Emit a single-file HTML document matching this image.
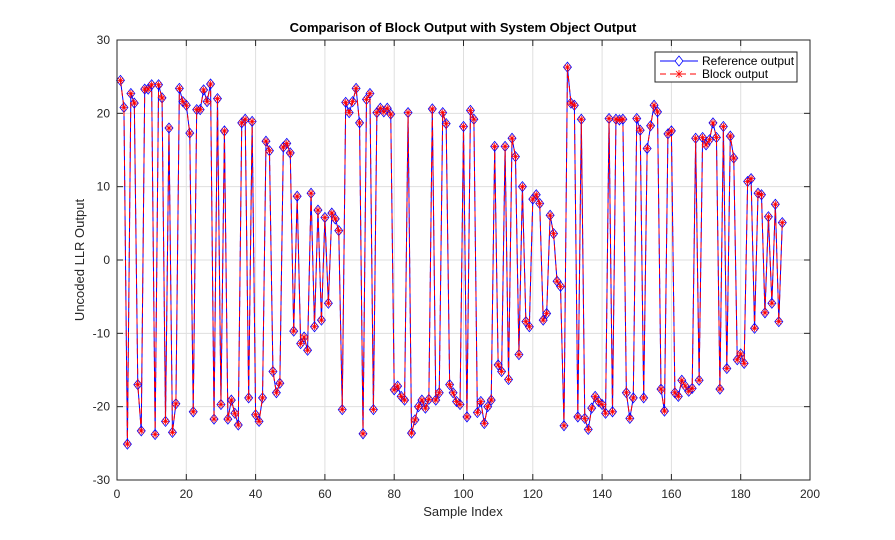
<!DOCTYPE html>
<html><head><meta charset="utf-8"><style>
html,body{margin:0;padding:0;background:#fff;}
svg{display:block;font-family:"Liberation Sans",Arial,sans-serif;}
</style></head><body>
<svg id="s" width="895" height="540" viewBox="0 0 895 540" xmlns="http://www.w3.org/2000/svg">
<rect width="895" height="540" fill="#fff"/>
<g id="grid"></g>
<g id="data"></g>
<rect x="117" y="40" width="693" height="440" fill="none" stroke="#262626" stroke-width="1"/>
<g id="ticks" font-size="12" fill="#262626"></g>
<text x="463" y="32" text-anchor="middle" font-size="13" font-weight="bold" fill="#000">Comparison of Block Output with System Object Output</text>
<text x="463" y="516" text-anchor="middle" font-size="13" fill="#262626">Sample Index</text>
<text transform="translate(84,260) rotate(-90)" text-anchor="middle" font-size="13" fill="#262626">Uncoded LLR Output</text>
<g>
<rect x="655" y="52" width="142" height="30" fill="#fff" stroke="#262626" stroke-width="1"/>
<line x1="660" y1="61" x2="698" y2="61" stroke="#0000ff" stroke-width="1"/>
<polygon points="679,56 683,61 679,66 675,61" fill="#fff" stroke="#0000ff" stroke-width="0.8"/>
<text x="702" y="65" font-size="12" fill="#000">Reference output</text>
<line x1="660" y1="74" x2="698" y2="74" stroke="#ff0000" stroke-width="1" stroke-dasharray="6,4"/>
<g stroke="#ff0000" stroke-width="0.8"><line x1="675" y1="74" x2="683" y2="74"/><line x1="679" y1="70" x2="679" y2="78"/><line x1="676" y1="71" x2="682" y2="77"/><line x1="682" y1="71" x2="676" y2="77"/></g>
<text x="702" y="78" font-size="12" fill="#000">Block output</text>
</g>
</svg>
<script>
var v=[24.5,20.8,-25.1,22.7,21.4,-17,-23.3,23.3,23.3,23.9,-23.8,23.9,22.1,-22,18,-23.5,-19.6,23.4,21.6,21.1,17.3,-20.7,20.5,20.5,23.2,21.6,24,-21.7,22,-19.7,17.6,-21.7,-19.1,-20.9,-22.5,18.7,19.2,-18.8,18.9,-21.1,-22,-18.8,16.2,14.9,-15.2,-18.1,-16.8,15.4,15.9,14.6,
-9.7,8.7,-11.4,-10.5,-12.3,9.1,-9.1,6.8,-8.2,5.8,-5.9,6.4,5.6,4.0,-20.4,21.5,20.1,21.6,23.4,18.7,-23.7,21.9,22.7,-20.4,20.1,20.7,20.2,20.7,19.9,-17.7,-17.2,-18.6,-19.1,20.1,-23.6,-21.8,-20,-19.1,-20.2,-19,20.6,-19.1,-18.1,20.1,18.6,-17,-18.1,-19.3,-19.7,18.2,-21.4,
20.4,19.2,-20.8,-19.3,-22.3,-20,-19.1,15.5,-14.3,-15.2,15.5,-16.3,16.6,14.1,-12.9,10,-8.4,-9.1,8.3,8.9,7.7,-8.2,-7.3,6.1,3.6,-2.9,-3.6,-22.6,26.3,21.4,21.1,-21.4,19.2,-21.6,-23.1,-20.2,-18.6,-19.3,-19.7,-20.9,19.3,-20.7,19.2,19.1,19.2,-18.1,-21.6,-18.8,19.3,
17.7,-18.8,15.2,18.3,21.1,20.2,-17.6,-20.6,17.2,17.6,-18.1,-18.6,-16.4,-17.2,-17.9,-17.5,16.6,-16.4,16.7,15.7,16.4,18.7,16.7,-17.6,18.2,-14.8,16.9,13.9,-13.6,-12.8,-14.1,10.7,11.1,-9.3,9.1,8.9,-7.2,5.9,-5.9,7.6,-8.4,5.1];
var NS="http://www.w3.org/2000/svg";
function X(i){return 117+i*693/200;}
function Y(y){return 260-y*440/60;}
function el(p,t,a,txt){var e=document.createElementNS(NS,t);for(var k in a)e.setAttribute(k,a[k]);if(txt!==undefined)e.textContent=txt;p.appendChild(e);return e;}
var g=document.getElementById("grid"),tk=document.getElementById("ticks"),d=document.getElementById("data");
for(var x=0;x<=200;x+=20){var px=X(x);
 if(x>0&&x<200)el(g,"line",{x1:px,y1:40,x2:px,y2:480,stroke:"#dfdfdf","stroke-width":1});
 el(tk,"line",{x1:px,y1:480,x2:px,y2:474,stroke:"#262626"});el(tk,"line",{x1:px,y1:40,x2:px,y2:46,stroke:"#262626"});
 el(tk,"text",{x:px,y:498,"text-anchor":"middle"},String(x));}
for(var y=-30;y<=30;y+=10){var py=Y(y);
 if(y>-30&&y<30)el(g,"line",{x1:117,y1:py,x2:810,y2:py,stroke:"#dfdfdf","stroke-width":1});
 el(tk,"line",{x1:117,y1:py,x2:123,y2:py,stroke:"#262626"});el(tk,"line",{x1:810,y1:py,x2:804,y2:py,stroke:"#262626"});
 el(tk,"text",{x:110,y:py+4,"text-anchor":"end"},String(y));}
var pts=v.map(function(y,i){return X(i+1).toFixed(2)+","+Y(y).toFixed(2);}).join(" ");
el(d,"polyline",{points:pts,fill:"none",stroke:"#0000ff","stroke-width":1});
v.forEach(function(y,i){var px=X(i+1),py=Y(y);
 el(d,"polygon",{points:px+","+(py-5)+" "+(px+4)+","+py+" "+px+","+(py+5)+" "+(px-4)+","+py,fill:"none",stroke:"#0000ff","stroke-width":0.8});});
el(d,"polyline",{points:pts,fill:"none",stroke:"#ff0000","stroke-width":1,"stroke-dasharray":"6,4"});
v.forEach(function(y,i){var px=X(i+1),py=Y(y);var s=3.5;
 var p="M"+(px-s)+" "+py+"H"+(px+s)+"M"+px+" "+(py-s)+"V"+(py+s)+"M"+(px-2.6)+" "+(py-2.6)+"L"+(px+2.6)+" "+(py+2.6)+"M"+(px+2.6)+" "+(py-2.6)+"L"+(px-2.6)+" "+(py+2.6);
 el(d,"path",{d:p,stroke:"#ff0000","stroke-width":0.8,fill:"none"});});
</script>
</body></html>
